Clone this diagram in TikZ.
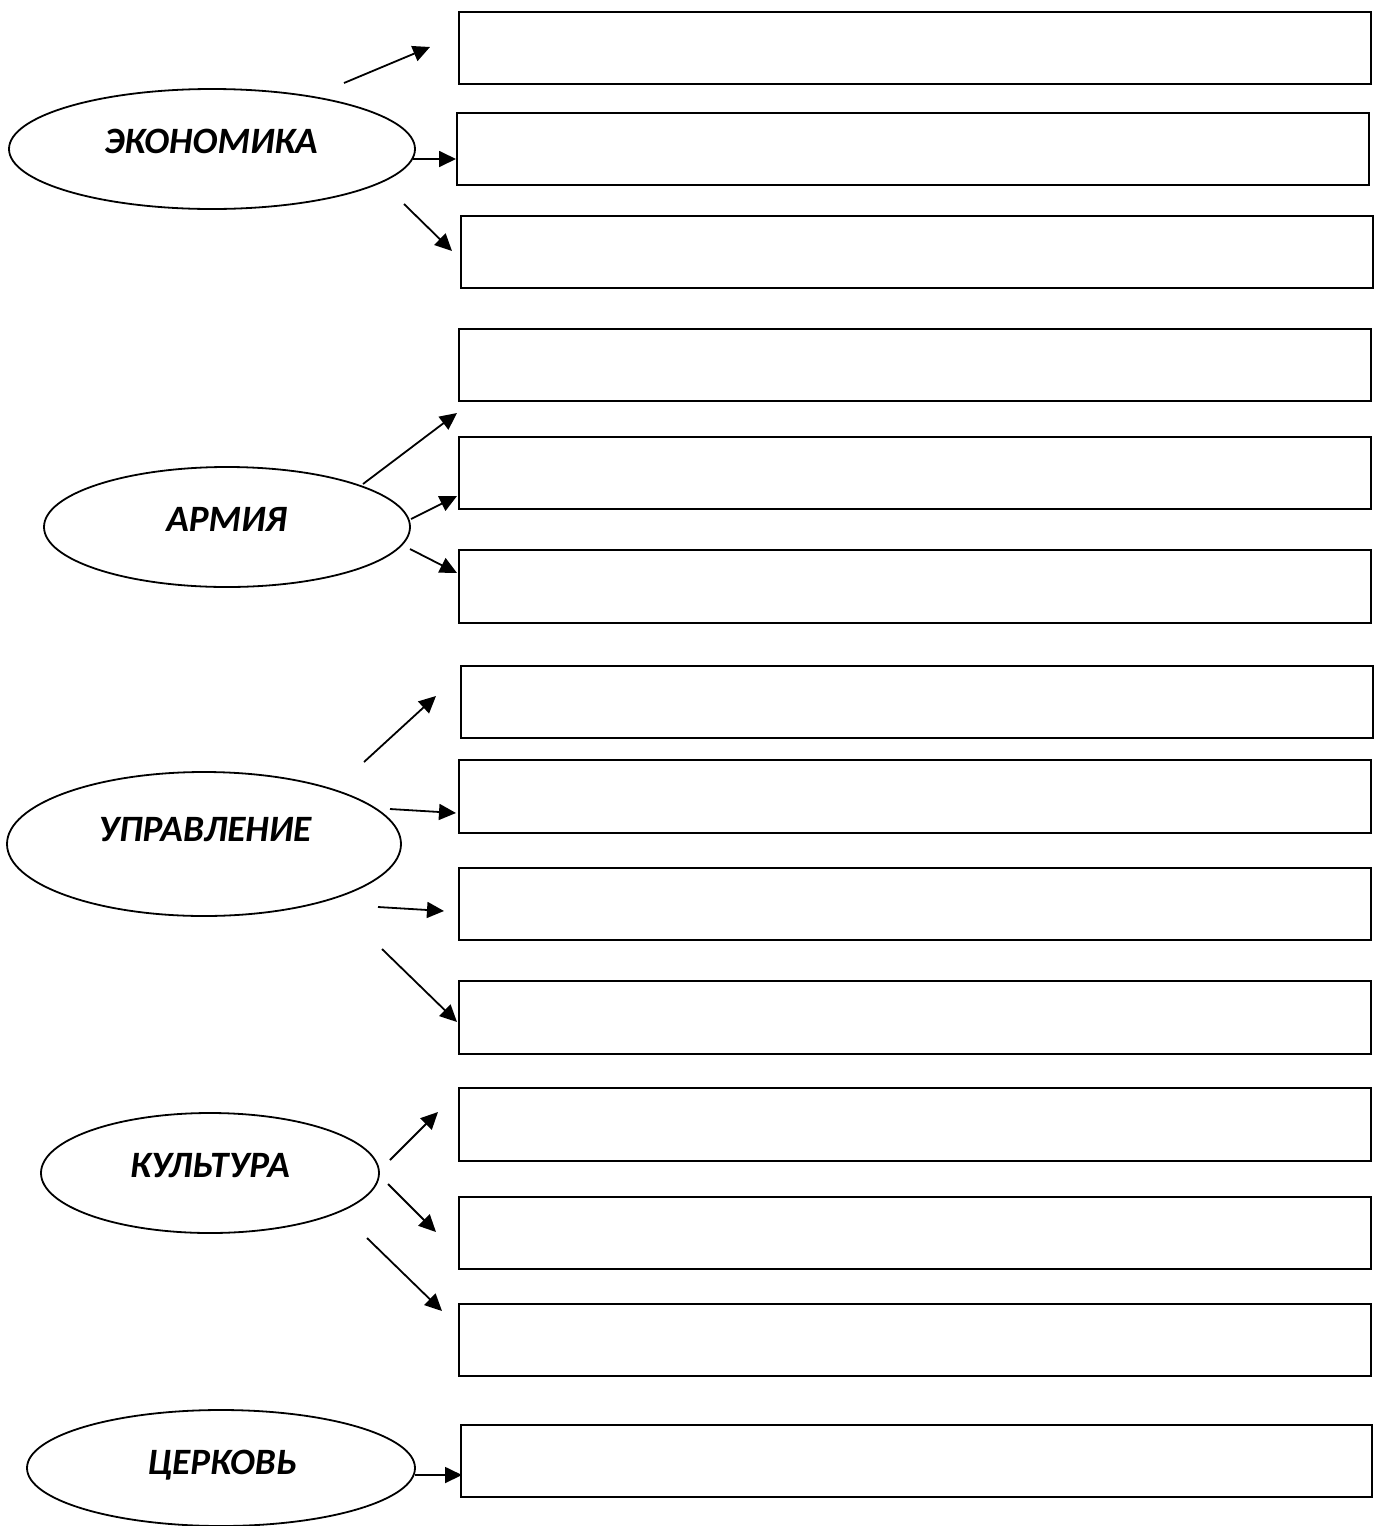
\documentclass[tikz,border=0pt]{standalone}
\usepackage{fontspec}
\setmainfont{Carlito}
\usetikzlibrary{shapes.geometric,arrows.meta}
\tikzset{
  field/.style={draw, rectangle, inner sep=0pt, anchor=north west, line width=1pt,
    minimum width=456pt, minimum height=36pt},
  topic/.style={draw, ellipse, inner sep=0pt, line width=0.9pt},
  lbl/.style={anchor=base, inner sep=0pt, font=\fontsize{18.6}{21}\selectfont\bfseries\itshape},
  arr/.style={line width=0.9pt, -{Triangle[length=8.5pt,width=8pt]}}
}
\begin{document}
\begin{tikzpicture}[x=0.5pt,y=-0.5pt]
\useasboundingbox (0,0) rectangle (1373,1526);
% boxes
\node[field] (r1) at (458,11) {};
\node[field] (r2) at (456,112) {};
\node[field] (r3) at (460,215) {};
\node[field] (r4) at (458,328) {};
\node[field] (r5) at (458,436) {};
\node[field, minimum height=36.5pt] (r6) at (458,549) {};
\node[field] (r7) at (460,665) {};
\node[field, minimum height=36.5pt] (r8) at (458,759) {};
\node[field] (r9) at (458,867) {};
\node[field, minimum height=36.5pt] (r10) at (458,980) {};
\node[field, minimum height=36.5pt] (r11) at (458,1087) {};
\node[field] (r12) at (458,1196) {};
\node[field] (r13) at (458,1303) {};
\node[field, minimum width=455.5pt] (r14) at (460,1424) {};
% ellipses
\node[topic, minimum width=203pt, minimum height=60pt] (e1) at (212,149) {};
\node[topic, minimum width=183pt, minimum height=60pt] (e2) at (227,527) {};
\node[topic, minimum width=197pt, minimum height=72pt] (e3) at (204,844) {};
\node[topic, minimum width=169pt, minimum height=60pt] (e4) at (210,1173) {};
\node[topic, minimum width=194pt, minimum height=58pt] (e5) at (221,1468) {};
% labels
\node[lbl] (t1) at (211,153) {ЭКОНОМИКА};
\node[lbl] (t2) at (226.5,531) {АРМИЯ};
\node[lbl] (t3) at (205,841) {УПРАВЛЕНИЕ};
\node[lbl] (t4) at (210,1177) {КУЛЬТУРА};
\node[lbl] (t5) at (222,1474) {ЦЕРКОВЬ};
% arrow ends
\coordinate (a1s) at (344,83);   \coordinate (a1e) at (430,47);
\coordinate (a2s) at (413,159);  \coordinate (a2e) at (456,159);
\coordinate (a3s) at (404,204);  \coordinate (a3e) at (452,251);
\coordinate (a4s) at (363,484);  \coordinate (a4e) at (457,413);
\coordinate (a5s) at (411,519);  \coordinate (a5e) at (457,496);
\coordinate (a6s) at (410,549);  \coordinate (a6e) at (457,573);
\coordinate (a7s) at (364,762);  \coordinate (a7e) at (436,696);
\coordinate (a8s) at (390,809);  \coordinate (a8e) at (456,813);
\coordinate (a9s) at (378,907);  \coordinate (a9e) at (444,911);
\coordinate (a10s) at (382,949); \coordinate (a10e) at (457,1022);
\coordinate (a11s) at (390,1160); \coordinate (a11e) at (438,1112);
\coordinate (a12s) at (388,1184); \coordinate (a12e) at (436,1232);
\coordinate (a13s) at (367,1238); \coordinate (a13e) at (442,1311);
\coordinate (a14s) at (415,1475); \coordinate (a14e) at (462,1475);
\foreach \i in {1,...,14} { \draw[arr] (a\i s) -- (a\i e); }
\end{tikzpicture}
\end{document}
